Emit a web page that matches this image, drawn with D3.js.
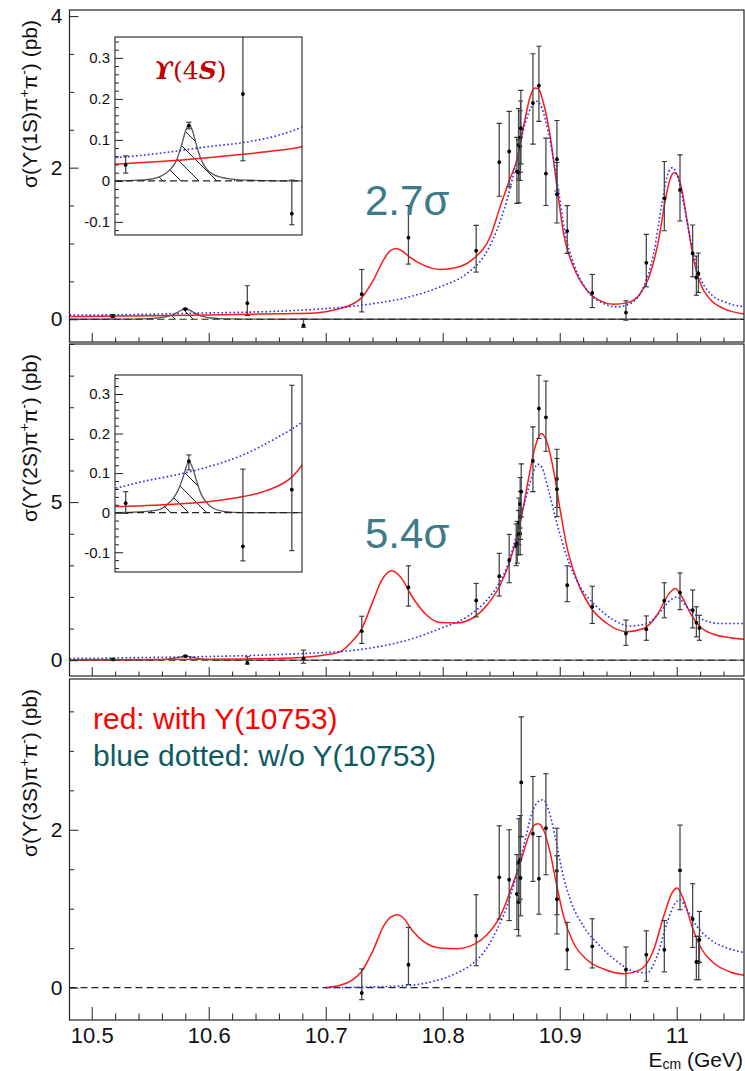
<!DOCTYPE html>
<html><head><meta charset="utf-8">
<script src="https://cdn.jsdelivr.net/npm/d3@7"></script>
<style>
body{margin:0;background:#fff;}
svg{display:block;font-family:"Liberation Sans",Arial,Helvetica,sans-serif;}
</style></head><body>
<svg id="chart" width="745" height="1071"></svg>
<script>
// ---------------- data ----------------
const xTickValues = [10.5, 10.6, 10.7, 10.8, 10.9, 11.0];
const xTickLabels = ["10.5", "10.6", "10.7", "10.8", "10.9", "11"];
const yTicks1S = [0, 2, 4];
const yTicks2S = [0, 5];
const yTicks3S = [0, 2];
const insetTicks = [-0.1, 0, 0.1, 0.2, 0.3];
const insetTickLabels = ["-0.1", "0", "0.1", "0.2", "0.3"];

// measured cross sections: [E_cm (GeV), sigma (pb), error down, error up]
const points1S = [
  [10.518, 0.039, 0.020, 0.022], [10.580, 0.135, 0.008, 0.008],
  [10.633, 0.212, 0.163, 0.230], [10.681, -0.080, 0.027, 0.082],
  [10.7308, 0.331, 0.234, 0.326], [10.7707, 1.076, 0.348, 0.423],
  [10.8286, 0.904, 0.282, 0.335], [10.8483, 2.072, 0.449, 0.512],
  [10.8568, 2.213, 0.467, 0.529], [10.8634, 1.949, 0.42, 0.45],
  [10.8648, 2.30, 0.45, 0.48], [10.8651, 1.936, 0.40, 0.43],
  [10.8662, 2.28, 0.45, 0.47], [10.8665, 2.40, 0.46, 0.48],
  [10.8668, 2.52, 0.47, 0.50], [10.8771, 2.853, 0.543, 0.65],
  [10.8822, 3.082, 0.472, 0.52], [10.8882, 1.922, 0.422, 0.468],
  [10.8976, 2.112, 0.42, 0.51], [10.8976, 1.649, 0.38, 0.42],
  [10.9064, 1.164, 0.295, 0.335], [10.9278, 0.348, 0.194, 0.243],
  [10.9566, 0.088, 0.10, 0.155], [10.9740, 0.745, 0.317, 0.375],
  [10.9894, 1.596, 0.428, 0.485], [11.0028, 1.706, 0.41, 0.463],
  [11.0136, 0.869, 0.309, 0.374], [11.0168, 0.551, 0.234, 0.282],
  [11.0185, 0.604, 0.25, 0.27]
];
const points2S = [
  [10.518, 0.024, 0.026, 0.029], [10.580, 0.130, 0.022, 0.016],
  [10.633, -0.085, 0.037, 0.195], [10.681, 0.058, 0.154, 0.264],
  [10.7308, 0.918, 0.388, 0.472], [10.7707, 2.30, 0.59, 0.685],
  [10.8286, 1.888, 0.518, 0.542], [10.8483, 2.658, 0.628, 0.722],
  [10.8568, 3.165, 0.715, 0.815], [10.8628, 3.61, 0.62, 0.70],
  [10.8637, 3.69, 0.62, 0.70], [10.8648, 3.99, 0.66, 0.74],
  [10.8651, 4.35, 0.70, 0.78], [10.8662, 4.00, 0.66, 0.74],
  [10.8665, 4.54, 0.72, 0.80], [10.8662, 4.94, 0.76, 0.84],
  [10.8671, 5.33, 0.80, 0.88], [10.8771, 6.30, 0.97, 1.08],
  [10.8822, 7.96, 0.95, 1.05], [10.8882, 7.68, 1.07, 1.15],
  [10.8976, 5.73, 0.90, 0.94], [10.8976, 5.41, 0.87, 0.97],
  [10.9064, 2.37, 0.52, 0.615], [10.9278, 1.69, 0.53, 0.65],
  [10.9566, 0.844, 0.374, 0.426], [10.9740, 0.98, 0.35, 0.42],
  [10.9894, 1.88, 0.54, 0.57], [11.0028, 2.14, 0.54, 0.62],
  [11.0136, 1.58, 0.56, 0.64], [11.0168, 1.19, 0.45, 0.50],
  [11.0194, 1.02, 0.39, 0.40]
];
const points3S = [
  [10.7308, -0.068, 0.085, 0.305], [10.7707, 0.29, 0.252, 0.474],
  [10.8286, 0.658, 0.38, 0.519], [10.8483, 1.397, 0.527, 0.653],
  [10.8568, 1.367, 0.517, 0.633], [10.8634, 1.186, 0.45, 0.50],
  [10.8648, 1.085, 0.43, 0.48], [10.8651, 1.59, 0.50, 0.55],
  [10.8662, 1.62, 0.50, 0.56], [10.8665, 1.39, 0.48, 0.52],
  [10.8671, 2.60, 0.685, 0.83], [10.8771, 1.95, 0.604, 0.725],
  [10.8822, 1.38, 0.45, 0.535], [10.8882, 2.02, 0.59, 0.69],
  [10.8976, 1.48, 0.556, 0.54], [10.8976, 1.12, 0.44, 0.55],
  [10.9064, 0.48, 0.252, 0.347], [10.9278, 0.523, 0.274, 0.35],
  [10.9566, 0.228, 0.228, 0.287], [10.9740, 0.418, 0.338, 0.302],
  [10.9894, 0.48, 0.28, 0.37], [11.0028, 1.485, 0.498, 0.575],
  [11.0136, 0.87, 0.36, 0.447], [11.0168, 0.325, 0.225, 0.325],
  [11.0188, 0.325, 0.225, 0.325], [11.0194, 0.607, 0.287, 0.359]
];

// fit curves: [E_cm (GeV), sigma (pb)]
const red1S = [
  [10.481, 0.038], [10.5075, 0.041], [10.5516, 0.047], [10.6006, 0.057], [10.6333, 0.065],
  [10.666, 0.074], [10.691, 0.084], [10.700, 0.100], [10.7122, 0.141], [10.7208, 0.185],
  [10.7308, 0.287], [10.7407, 0.516], [10.7493, 0.78], [10.755, 0.904], [10.7601, 0.935],
  [10.765, 0.904], [10.7721, 0.816], [10.7835, 0.714], [10.7978, 0.657], [10.812, 0.683],
  [10.8263, 0.80], [10.8406, 1.089], [10.8491, 1.486], [10.8577, 1.861], [10.8634, 2.103],
  [10.8691, 2.544], [10.8748, 2.94], [10.879, 3.05], [10.8819, 3.04], [10.8861, 2.853],
  [10.8919, 2.41], [10.8976, 1.75], [10.9033, 1.13], [10.9118, 0.69], [10.9232, 0.384],
  [10.9347, 0.243], [10.946, 0.198], [10.9575, 0.216], [10.9689, 0.34], [10.9774, 0.604],
  [10.9845, 1.045], [10.9903, 1.574], [10.9945, 1.86], [10.9982, 1.936], [11.0031, 1.795],
  [11.0088, 1.31], [11.0145, 0.78], [11.0202, 0.472], [11.0287, 0.26], [11.0401, 0.141],
  [11.0598, 0.066]
];
const blue1S = [
  [10.481, 0.055], [10.5075, 0.057], [10.5516, 0.0675], [10.6006, 0.084], [10.6333, 0.0935],
  [10.666, 0.11], [10.691, 0.131], [10.7122, 0.155], [10.7407, 0.207], [10.7693, 0.287],
  [10.7978, 0.428], [10.8206, 0.604], [10.8349, 0.825], [10.8463, 1.177], [10.8549, 1.574],
  [10.8634, 2.103], [10.8705, 2.588], [10.8762, 2.81], [10.8805, 2.875], [10.8847, 2.787],
  [10.8904, 2.456], [10.8976, 1.839], [10.9047, 1.13], [10.9118, 0.737], [10.9232, 0.384],
  [10.9375, 0.207], [10.9489, 0.163], [10.9603, 0.207], [10.9717, 0.428], [10.9803, 0.869],
  [10.9874, 1.53], [10.9931, 1.949], [10.9965, 2.0], [11.0002, 1.905], [11.0059, 1.53],
  [11.0117, 1.045], [11.0188, 0.604], [11.0287, 0.34], [11.043, 0.216], [11.0598, 0.163]
];
const ups4S1S = [
  [10.481, 0], [10.5075, 0], [10.5353, 0.0024], [10.5516, 0.0106], [10.5614, 0.027],
  [10.568, 0.051], [10.5729, 0.088], [10.5771, 0.124], [10.580, 0.137], [10.5833, 0.124],
  [10.5869, 0.092], [10.5915, 0.055], [10.5974, 0.0285], [10.6072, 0.012], [10.6202, 0.005],
  [10.640, 0.0016], [10.691, 0], [11.0598, 0]
];
const red2S = [
  [10.481, 0.013], [10.5075, 0.0153], [10.5516, 0.0195], [10.6006, 0.028], [10.6333, 0.0407],
  [10.6529, 0.053], [10.6693, 0.070], [10.6823, 0.093], [10.691, 0.121], [10.700, 0.17],
  [10.7122, 0.264], [10.7208, 0.527], [10.7308, 1.0], [10.7407, 1.90], [10.7479, 2.53],
  [10.7564, 2.83], [10.765, 2.58], [10.7735, 2.03], [10.7864, 1.42], [10.7978, 1.19],
  [10.812, 1.18], [10.8263, 1.35], [10.8377, 1.74], [10.8491, 2.37], [10.8577, 3.16],
  [10.8662, 4.33], [10.8734, 5.75], [10.879, 6.75], [10.8842, 7.17], [10.889, 6.91],
  [10.8947, 6.01], [10.9004, 4.75], [10.9061, 3.59], [10.9147, 2.53], [10.9261, 1.69],
  [10.9404, 1.16], [10.9575, 0.90], [10.9717, 1.0], [10.9831, 1.42], [10.9931, 2.09],
  [10.9988, 2.27], [11.0045, 2.0], [11.0117, 1.48], [11.0202, 1.05], [11.0316, 0.82],
  [11.0459, 0.71], [11.0598, 0.655]
];
const blue2S = [
  [10.481, 0.055], [10.5075, 0.062], [10.5353, 0.079], [10.568, 0.0957], [10.6006, 0.117],
  [10.6333, 0.146], [10.666, 0.189], [10.691, 0.228], [10.7122, 0.27], [10.7407, 0.40],
  [10.7693, 0.63], [10.7978, 1.0], [10.8206, 1.37], [10.8349, 1.79], [10.8463, 2.32],
  [10.8549, 2.95], [10.8634, 4.01], [10.8705, 5.06], [10.8762, 5.80], [10.881, 6.20],
  [10.8847, 6.10], [10.8904, 5.38], [10.8976, 4.33], [10.9061, 3.27], [10.9175, 2.32],
  [10.9318, 1.69], [10.9461, 1.27], [10.9603, 1.08], [10.9746, 1.16], [10.986, 1.53],
  [10.9945, 1.90], [11.0002, 2.0], [11.0074, 1.74], [11.0145, 1.48], [11.023, 1.27],
  [11.0373, 1.16], [11.0598, 1.16]
];
const ups4S2S = [
  [10.481, 0], [10.5075, 0], [10.5353, 0.0027], [10.5516, 0.0086], [10.5582, 0.0195],
  [10.5647, 0.0364], [10.5696, 0.0576], [10.5745, 0.0914], [10.580, 0.1295], [10.5843, 0.108],
  [10.5882, 0.0745], [10.5924, 0.045], [10.5974, 0.0255], [10.6039, 0.011], [10.6137, 0.0035],
  [10.6333, 0], [11.0598, 0]
];
const red3S = [
  [10.700, 0.0], [10.7122, 0.03], [10.7208, 0.08], [10.7308, 0.207], [10.7407, 0.48],
  [10.7493, 0.776], [10.7564, 0.903], [10.7612, 0.924], [10.7664, 0.882], [10.7735, 0.734],
  [10.7835, 0.586], [10.7978, 0.502], [10.812, 0.494], [10.8263, 0.544], [10.8377, 0.67],
  [10.8491, 0.903], [10.8577, 1.22], [10.8662, 1.578], [10.8734, 1.915], [10.8785, 2.063],
  [10.8819, 2.076], [10.8861, 2.0], [10.8919, 1.705], [10.8976, 1.283], [10.9033, 0.903],
  [10.9118, 0.565], [10.9232, 0.354], [10.9375, 0.236], [10.9546, 0.177], [10.9689, 0.228],
  [10.9803, 0.48], [10.9888, 0.903], [10.9959, 1.198], [11.0002, 1.262], [11.0059, 1.114],
  [11.0131, 0.776], [11.0216, 0.48], [11.0316, 0.312], [11.0459, 0.198], [11.0598, 0.152]
];
const blue3S = [
  [10.700, 0.0], [10.7407, 0.01], [10.7693, 0.025], [10.7921, 0.08], [10.812, 0.186],
  [10.8263, 0.312], [10.8377, 0.502], [10.8463, 0.734], [10.8549, 1.03], [10.8634, 1.45],
  [10.8705, 1.873], [10.8762, 2.21], [10.8819, 2.36], [10.8861, 2.38], [10.8904, 2.253],
  [10.8961, 1.915], [10.9018, 1.494], [10.909, 1.114], [10.9204, 0.776], [10.9347, 0.523],
  [10.9489, 0.333], [10.9632, 0.207], [10.9746, 0.186], [10.9831, 0.397], [10.9917, 0.819],
  [10.9988, 1.072], [11.0025, 1.114], [11.0088, 0.987], [11.0173, 0.776], [11.0287, 0.608],
  [11.043, 0.502], [11.0598, 0.439]
];

// ---------------- drawing ----------------
const svg = d3.select("#chart");
const defs = svg.append("defs");
const FRAME_L = 69.5, FRAME_R = 744;
const xDomain = [10.481, 11.0575];
const RED = "#ff1a1a", BLUE = "#2a2aff", TEAL = "#3f7a88";

const hatch = defs.append("pattern").attr("id", "hatch")
  .attr("patternUnits", "userSpaceOnUse").attr("width", 18).attr("height", 18);
hatch.append("path").attr("d", "M-2,-2L20,20M-2,16L2,20M16,-2L20,2")
  .attr("stroke", "#222").attr("stroke-width", 1);

const lineGen = (x, y) => d3.line().x(d => x(d[0])).y(d => y(d[1])).curve(d3.curveMonotoneX);
const areaGen = (x, y) => d3.area().x(d => x(d[0])).y0(y(0)).y1(d => y(d[1])).curve(d3.curveMonotoneX);
let clipId = 0;

function minorValues(lo, hi, step, majors) {
  const out = [];
  const n0 = Math.ceil(lo / step - 1e-6), n1 = Math.floor(hi / step + 1e-6);
  for (let i = n0; i <= n1; i++) {
    const v = +(i * step).toFixed(6);
    if (!majors.some(m => Math.abs(m - v) < 1e-6)) out.push(v);
  }
  return out;
}

function styleAxis(g) {
  g.select(".domain").remove();
  g.selectAll(".tick line").attr("stroke", "#222").attr("stroke-width", 1);
}

function drawFits(g, x, y, f) {
  const cid = "clip" + (clipId++);
  defs.append("clipPath").attr("id", cid).append("rect")
    .attr("x", x.range()[0]).attr("y", y.range()[1])
    .attr("width", x.range()[1] - x.range()[0]).attr("height", y.range()[0] - y.range()[1]);
  const c = g.append("g").attr("clip-path", `url(#${cid})`);
  if (f.black) {
    c.append("path").datum(f.black).attr("d", areaGen(x, y)).attr("fill", "url(#hatch)");
    c.append("path").datum(f.black).attr("d", lineGen(x, y))
      .attr("fill", "none").attr("stroke", "#555").attr("stroke-width", 1.3);
  }
  // zero reference
  c.append("line").attr("x1", x.range()[0]).attr("x2", x.range()[1])
    .attr("y1", y(0)).attr("y2", y(0))
    .attr("stroke", "#222").attr("stroke-width", 1.1).attr("stroke-dasharray", "7,4");
  c.append("path").datum(f.red).attr("d", lineGen(x, y))
    .attr("fill", "none").attr("stroke", RED).attr("stroke-width", 1.5);
  c.append("path").datum(f.blue).attr("d", lineGen(x, y))
    .attr("fill", "none").attr("stroke", BLUE).attr("stroke-width", 1.6)
    .attr("stroke-dasharray", "1.6,2.4");
  // data points with error bars
  const pts = c.selectAll("g.pt").data(f.points).join("g").attr("class", "pt");
  pts.append("line")
    .attr("x1", d => x(d[0])).attr("x2", d => x(d[0]))
    .attr("y1", d => y(d[1] - d[2])).attr("y2", d => y(d[1] + d[3]))
    .attr("stroke", "#4a4a4a").attr("stroke-width", 1.3);
  [2, 3].forEach(k => {
    pts.append("line")
      .attr("x1", d => x(d[0]) - 2.6).attr("x2", d => x(d[0]) + 2.6)
      .attr("y1", d => y(k === 2 ? d[1] - d[2] : d[1] + d[3]))
      .attr("y2", d => y(k === 2 ? d[1] - d[2] : d[1] + d[3]))
      .attr("stroke", "#333").attr("stroke-width", 1.1);
  });
  pts.append("circle").attr("cx", d => x(d[0])).attr("cy", d => y(d[1]))
    .attr("r", 1.9).attr("fill", "#000");
}

function drawPanel(p) {
  const g = svg.append("g");
  const x = d3.scaleLinear().domain(xDomain).range([FRAME_L, FRAME_R]);
  const y = d3.scaleLinear().domain(p.yDomain).range([p.bottom, p.top]);

  drawFits(g, x, y, p);

  // frame
  g.append("rect").attr("x", FRAME_L).attr("y", p.top)
    .attr("width", FRAME_R - FRAME_L).attr("height", p.bottom - p.top)
    .attr("fill", "none").attr("stroke", "#222").attr("stroke-width", 1.2);

  // x axis (ticks point inward)
  const xMinor = minorValues(10.49, 11.057, 0.02, xTickValues);
  g.append("g").attr("transform", `translate(0,${p.bottom})`)
    .call(d3.axisBottom(x).tickValues(xMinor).tickSize(-p.xMinorLen).tickFormat(""))
    .call(styleAxis);
  const xa = g.append("g").attr("transform", `translate(0,${p.bottom})`)
    .call(d3.axisBottom(x).tickValues(xTickValues).tickSize(-p.xMajorLen)
      .tickPadding(7)
      .tickFormat((d, i) => p.xLabels ? xTickLabels[i] : ""))
    .call(styleAxis);
  xa.selectAll(".tick text").attr("font-size", 22).attr("fill", "#111")
    .attr("font-family", "'Liberation Sans',Arial,sans-serif");

  // y axis
  const yMinor = minorValues(p.yDomain[0], p.yDomain[1], p.yMinorStep, p.yTicks);
  g.append("g").attr("transform", `translate(${FRAME_L},0)`)
    .call(d3.axisLeft(y).tickValues(yMinor).tickSize(-4.5).tickFormat(""))
    .call(styleAxis);
  const ya = g.append("g").attr("transform", `translate(${FRAME_L},0)`)
    .call(d3.axisLeft(y).tickValues(p.yTicks).tickSize(-9).tickPadding(7).tickFormat(d3.format("d")))
    .call(styleAxis);
  ya.selectAll(".tick text").attr("font-size", 21).attr("fill", "#111")
    .attr("font-family", "'Liberation Sans',Arial,sans-serif");

  // y title
  const t = g.append("text").attr("transform", `translate(37,${p.top + 10}) rotate(-90)`)
    .attr("text-anchor", "end").attr("font-size", 21).attr("fill", "#111");
  t.append("tspan").text("σ(ϒ(" + p.state + ")π");
  t.append("tspan").attr("dy", -8).attr("font-size", 14).text("+");
  t.append("tspan").attr("dy", 8).text("π");
  t.append("tspan").attr("dy", -8).attr("font-size", 14).text("-");
  t.append("tspan").attr("dy", 8).text(") (pb)");
  return { g, x, y };
}

function drawInset(ins) {
  const g = svg.append("g");
  const x = d3.scaleLinear().domain([10.5075, 10.691]).range([ins.left, ins.right]);
  const y = d3.scaleLinear().domain(ins.yDomain).range([ins.bottom, ins.top]);
  g.append("rect").attr("x", ins.left).attr("y", ins.top)
    .attr("width", ins.right - ins.left).attr("height", ins.bottom - ins.top).attr("fill", "#fff");
  const pts = ins.points.filter(d => d[0] > 10.5075 && d[0] < 10.691);
  drawFits(g, x, y, Object.assign({}, ins, { points: pts }));
  g.append("rect").attr("x", ins.left).attr("y", ins.top)
    .attr("width", ins.right - ins.left).attr("height", ins.bottom - ins.top)
    .attr("fill", "none").attr("stroke", "#222").attr("stroke-width", 1.1);
  g.append("g").attr("transform", `translate(${ins.left},0)`)
    .call(d3.axisLeft(y).tickValues(minorValues(ins.yDomain[0], ins.yDomain[1], 0.02, insetTicks))
      .tickSize(-4).tickFormat(""))
    .call(styleAxis);
  const ya = g.append("g").attr("transform", `translate(${ins.left},0)`)
    .call(d3.axisLeft(y).tickValues(insetTicks).tickSize(-8).tickPadding(5)
      .tickFormat((d, i) => insetTickLabels[i]))
    .call(styleAxis);
  ya.selectAll(".tick text").attr("font-size", 15).attr("fill", "#111")
    .attr("font-family", "'Liberation Sans',Arial,sans-serif");
  return g;
}

const common = { xMajorLen: 9, xMinorLen: 4.5 };
drawPanel(Object.assign({}, common, {
  top: 10, bottom: 342, yDomain: [-0.30, 4.08], yTicks: yTicks1S, yMinorStep: 0.5,
  state: "1S", points: points1S, red: red1S, blue: blue1S, black: ups4S1S, xLabels: false
}));
drawPanel(Object.assign({}, common, {
  top: 344, bottom: 676, yDomain: [-0.5, 10], yTicks: yTicks2S, yMinorStep: 1,
  state: "2S", points: points2S, red: red2S, blue: blue2S, black: ups4S2S, xLabels: false
}));
drawPanel({
  xMajorLen: 13, xMinorLen: 6.5,
  top: 679, bottom: 1020, yDomain: [-0.41, 3.91], yTicks: yTicks3S, yMinorStep: 0.5,
  state: "3S", points: points3S, red: red3S, blue: blue3S, black: null, xLabels: true
});

drawInset({ left: 115, right: 302, top: 37, bottom: 235, yDomain: [-0.132, 0.351],
  points: points1S, red: red1S, blue: blue1S, black: ups4S1S });
drawInset({ left: 115, right: 302, top: 375, bottom: 572, yDomain: [-0.15, 0.348],
  points: points2S, red: red2S, blue: blue2S, black: ups4S2S });

// inset label
const lab = svg.append("text").attr("x", 154).attr("y", 79)
  .attr("font-family", "'DejaVu Serif','Liberation Serif',serif").attr("font-size", 25)
  .attr("fill", "#c00000");
lab.append("tspan").attr("font-style", "italic").attr("font-weight", "bold").text("ϒ");
lab.append("tspan").text("(4");
lab.append("tspan").attr("font-style", "italic").attr("font-weight", "bold").text("S");
lab.append("tspan").text(")");

// significance annotations
svg.append("text").attr("x", 365).attr("y", 215).attr("font-size", 42).attr("fill", TEAL).text("2.7σ");
svg.append("text").attr("x", 365).attr("y", 548).attr("font-size", 42).attr("fill", TEAL).text("5.4σ");

// legend text
svg.append("text").attr("x", 93).attr("y", 729).attr("font-size", 30).attr("fill", "#ff0000")
  .text("red: with Y(10753)");
svg.append("text").attr("x", 93).attr("y", 766).attr("font-size", 30).attr("fill", "#0f5a62")
  .text("blue dotted: w/o Y(10753)");

// x title
const xt = svg.append("text").attr("x", 743).attr("y", 1067).attr("text-anchor", "end")
  .attr("font-size", 21).attr("fill", "#111");
xt.append("tspan").text("E");
xt.append("tspan").attr("dy", 2).attr("font-size", 14).text("cm");
xt.append("tspan").attr("dy", -2).text(" (GeV)");
</script>
</body></html>
